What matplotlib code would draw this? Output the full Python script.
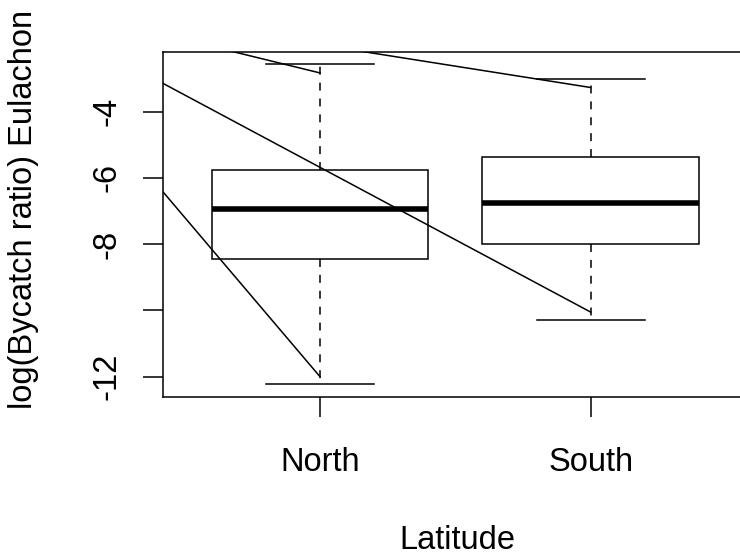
import matplotlib
matplotlib.use("Agg")
import matplotlib.pyplot as plt

plt.rcParams['font.family'] = ['Liberation Sans', 'DejaVu Sans']

# boxplot summary
groups = ['North', 'South']
whisk_lo = [-12.23, -10.30]
q1 = [-8.44, -7.98]
med = [-6.93, -6.75]
q3 = [-5.76, -5.37]
whisk_hi = [-2.57, -3.02]

# straight lines drawn over the boxes: (x0, y0) -> (x1, y1)
line_x0 = [0, 1, 0, 0]
line_y0 = [-0.83, -1.98, -1.31, -2.38]
line_x1 = [1, 2, 2, 1]
line_y1 = [-2.83, -3.27, -10.05, -12.0]

y_ticks = [-4, -6, -8, -10, -12]
y_ticklabels = ['-4', '-6', '-8', '', '-12']

W, H = 740, 556
fig = plt.figure(figsize=(W / 100, H / 100), dpi=100)
# R-style plot region; its right side lies past the picture edge
left, right, top, bottom = 163, 747.7, 52.3, 397.3
ax = fig.add_axes([left / W, 1 - bottom / H, (right - left) / W, (bottom - top) / H])

stats = []
for i, g in enumerate(groups):
    stats.append(dict(label=g, whislo=whisk_lo[i], q1=q1[i], med=med[i],
                      q3=q3[i], whishi=whisk_hi[i], fliers=[]))

lw = 1.1
ax.bxp(stats, positions=[1, 2], widths=0.8, capwidths=0.4, patch_artist=True,
       showfliers=False,
       boxprops=dict(facecolor='white', edgecolor='black', linewidth=lw),
       whiskerprops=dict(color='black', linewidth=lw, linestyle=(0, (5.2, 5.2))),
       capprops=dict(color='black', linewidth=lw),
       medianprops=dict(color='black', linewidth=4, solid_capstyle='butt'))

for i in range(len(line_x0)):
    ax.plot([line_x0[i], line_x1[i]], [line_y0[i], line_y1[i]],
            color='black', linewidth=lw, zorder=5)

ax.set_xlim(0.42, 2.58)
ax.set_ylim(-12.622, -2.207)

ax.set_xticks([1, 2])
ax.set_xticklabels(groups, fontsize=23.5)
ax.set_yticks(y_ticks)
ax.set_yticklabels(y_ticklabels, fontsize=23.5, rotation=90, va='center')

ax.tick_params(axis='both', direction='out', length=14.4, width=lw, color='black')
ax.tick_params(axis='x', pad=21.6)
ax.tick_params(axis='y', pad=15)

for s in ax.spines.values():
    s.set_linewidth(lw)

fig.text(457 / W, 1 - 549 / H, 'Latitude', fontsize=23.5, ha='center', va='baseline')
fig.text(32 / W, 1 - 209 / H, 'log(Bycatch ratio) Eulachon', fontsize=23.5,
         rotation=90, rotation_mode='anchor', ha='center', va='baseline')

fig.savefig('out.png', dpi=100)
